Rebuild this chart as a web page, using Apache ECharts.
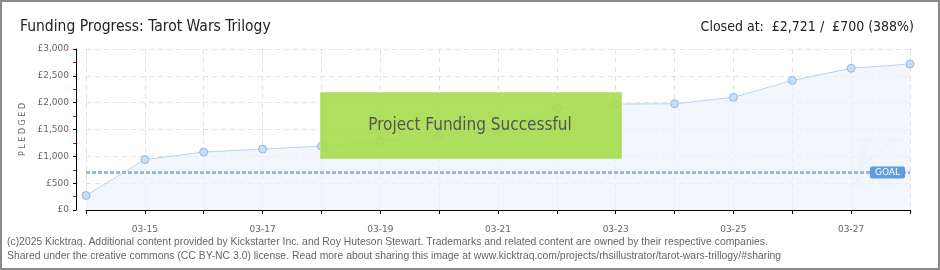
<!DOCTYPE html>
<html><head><meta charset="utf-8">
<script src="https://cdn.jsdelivr.net/npm/echarts@6/dist/echarts.min.js"></script>
<style>
html,body{margin:0;padding:0;background:#fff;}
#wrap{position:absolute;left:0;top:0;width:936px;height:266px;border:2px solid #8a8a8a;}
#c{position:absolute;left:-2px;top:-2px;width:940px;height:270px;}
</style></head>
<body>
<div id="wrap"><div id="c"></div></div>
<script>
var dates = ['03-14','03-15','03-16','03-17','03-18','03-19','03-20','03-21','03-22','03-23','03-24','03-25','03-26','03-27','03-28'];
var pledged = [270, 940, 1080, 1135, 1190, 1285, 1390, 1500, 1900, 1975, 1980, 2100, 2415, 2640, 2721];
var goal = 700;
var titleLeft = 'Funding Progress: Tarot Wars Trilogy';
var titleRight = 'Closed at:  £2,721 /  £700 (388%)';
var footer1 = '(c)2025 Kicktraq. Additional content provided by Kickstarter Inc. and Roy Huteson Stewart. Trademarks and related content are owned by their respective companies.';
var footer2 = 'Shared under the creative commons (CC BY-NC 3.0) license. Read more about sharing this image at www.kicktraq.com/projects/rhsillustrator/tarot-wars-trillogy/#sharing';
var banner = 'Project Funding Successful';

var narrow = '"Liberation Sans Narrow", "DejaVu Sans Condensed", sans-serif';
var chart = echarts.init(document.getElementById('c'), null, {renderer:'canvas'});
chart.setOption({
  animation: false,
  title: [
    {text: titleLeft, left: 15, top: 14, textStyle:{fontFamily: narrow, fontSize: 15.5, fontWeight: 'normal', color:'#222'}},
    {text: titleRight, right: 21, top: 15, textStyle:{fontFamily: narrow, fontSize: 14, fontWeight: 'normal', color:'#222'}}
  ],
  grid: {left: 86, right: 30, top: 49, bottom: 60},
  xAxis: {
    type: 'category', data: dates, boundaryGap: false, offset: 10,
    axisLine: {lineStyle: {color: '#000', width: 1}},
    axisTick: {interval: 0, length: 4, lineStyle: {color: '#000'}},
    axisLabel: {interval: function(i){return i % 2 === 1;}, color: '#666', fontSize: 9, fontFamily: 'DejaVu Sans', margin: 5},
    splitLine: {show: true, interval: 0, lineStyle: {color: '#e2e2e2', type: [5,4]}}
  },
  yAxis: {
    type: 'value', min: 0, max: 3000, interval: 500, offset: 10,
    name: 'P L E D G E D', nameLocation: 'middle', nameGap: 49, nameRotate: 90,
    nameTextStyle: {fontSize: 8, color: '#666', fontFamily: 'DejaVu Sans', padding: [0, 0, 0, 0], align: 'center'},
    axisLine: {show: true, lineStyle: {color: '#000', width: 1}},
    axisTick: {show: true, length: 3, lineStyle: {color: '#000'}},
    minorTick: {show: true, splitNumber: 2, length: 3, lineStyle: {color: '#e00000'}},
    axisLabel: {color: '#666', fontSize: 9, fontFamily: 'DejaVu Sans', margin: 7,
      formatter: function(v){return '£' + (v >= 1000 ? Math.floor(v/1000) + ',' + String(v%1000).padStart(3,'0') : v);}},
    splitLine: {show: true, lineStyle: {color: '#e2e2e2', type: [5,4]}}
  },
  series: [{
    type: 'line', data: pledged, smooth: false,
    symbol: 'circle', symbolSize: 8,
    itemStyle: {color: '#c7ddf6', borderColor: '#98b6dc', borderWidth: 1},
    lineStyle: {color: '#b7d3f1', width: 1},
    areaStyle: {color: '#ecf3fc'},
    z: 2,
    markLine: {
      silent: true, symbol: 'none',
      data: [{yAxis: goal}],
      lineStyle: {color: '#97b8e0', type: [4,2], width: 3},
      label: {position: 'insideEnd', distance: 5, formatter: 'GOAL', color: '#fff', fontSize: 9, fontFamily: 'DejaVu Sans',
        backgroundColor: '#5f9ddd', padding: [2,5,1,5], borderRadius: 2}
    }
  }],
  graphic: [
    {type: 'text', left: 848, top: 135, z: 1, style: {text: 'K', fontSize: 68, fontStyle: 'italic', fontFamily: 'DejaVu Serif', fill: 'rgba(220,230,242,0.3)'}},
    {type: 'rect', left: 320, top: 92, z: 50, shape: {width: 301, height: 66}, style: {fill: 'rgba(166,220,76,0.9)', stroke: '#b9e57a', lineWidth: 1}},
    {type: 'text', x: 470, y: 126, z: 51, style: {text: banner, align: 'center', verticalAlign: 'middle', fontFamily: narrow, fontSize: 17, fill: '#555', textShadowColor: '#fff', textShadowOffsetX: 1, textShadowOffsetY: 1, textShadowBlur: 0}},
    {type: 'text', left: 7, top: 237, style: {text: footer1, fontFamily: '"Liberation Sans Narrow", sans-serif', fontSize: 10.4, fill: '#666'}},
    {type: 'text', left: 7, top: 251, style: {text: footer2, fontFamily: '"Liberation Sans Narrow", sans-serif', fontSize: 10.4, fill: '#666'}}
  ]
});
</script>
</body></html>
